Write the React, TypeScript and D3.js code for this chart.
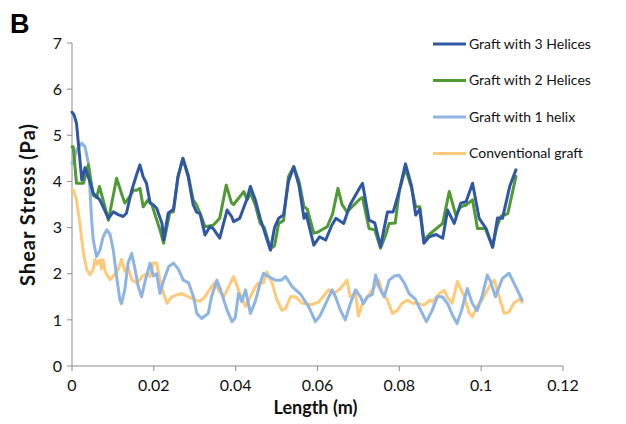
import React from 'react';
import * as d3 from 'd3';

// [length (m), shear stress (Pa)]
const threeHelices: [number, number][] = [
  [0, 5.5], [0.0005, 5.44], [0.0011, 5.26], [0.0024, 4.03], [0.0032, 4.3], [0.004, 4.1], [0.0052, 3.74],
  [0.006, 3.67], [0.0068, 3.6], [0.0076, 3.45], [0.0089, 3.2], [0.0101, 3.34], [0.0113, 3.28], [0.0125, 3.24],
  [0.0133, 3.31], [0.0146, 3.81], [0.0158, 4.15], [0.0166, 4.36], [0.0174, 4.1], [0.0182, 3.96], [0.0191, 3.53],
  [0.0198, 3.5], [0.0207, 3.42], [0.022, 3.09], [0.0224, 2.73], [0.0235, 3.31], [0.0248, 3.4], [0.0259, 4.1],
  [0.0271, 4.5], [0.0284, 4.1], [0.0296, 3.5], [0.0304, 3.34], [0.0313, 3.3], [0.0325, 2.84], [0.0337, 3.02],
  [0.0345, 2.98], [0.0361, 2.77], [0.0379, 3.38], [0.039, 3.24], [0.0395, 3.13], [0.041, 3.2], [0.0428, 3.63],
  [0.0436, 3.89], [0.0448, 3.6], [0.046, 3.2], [0.0468, 2.98], [0.0485, 2.51], [0.0495, 3.0], [0.0505, 3.2],
  [0.0517, 3.27], [0.0529, 4.0], [0.0542, 4.32], [0.0555, 3.9], [0.0567, 3.2], [0.0572, 3.3], [0.0591, 2.62],
  [0.0605, 2.8], [0.062, 2.73], [0.0635, 3.05], [0.0645, 3.2], [0.0664, 3.09], [0.068, 3.5], [0.0705, 3.89],
  [0.071, 3.96], [0.0726, 3.16], [0.074, 3.1], [0.0754, 2.59], [0.0771, 3.34], [0.0785, 3.34], [0.08, 3.8],
  [0.0815, 4.38], [0.083, 3.9], [0.084, 3.27], [0.085, 3.4], [0.086, 2.66], [0.0873, 2.8], [0.089, 2.85],
  [0.0906, 2.77], [0.0918, 3.38], [0.0934, 3.09], [0.095, 3.53], [0.0963, 3.56], [0.0979, 3.96], [0.0995, 3.2],
  [0.1012, 2.98], [0.1028, 2.57], [0.104, 3.21], [0.1052, 3.2], [0.107, 3.9], [0.1085, 4.25],
];

const twoHelices: [number, number][] = [
  [0, 4.75], [0.0003, 4.75], [0.0011, 3.96], [0.0028, 3.96], [0.004, 4.36], [0.0052, 3.7], [0.006, 3.65],
  [0.0067, 3.89], [0.0076, 3.6], [0.0089, 3.16], [0.0109, 4.07], [0.0121, 3.74], [0.0129, 3.53], [0.0141, 3.67],
  [0.015, 3.81], [0.0158, 3.81], [0.0166, 3.85], [0.0174, 3.45], [0.0186, 3.6], [0.0195, 3.5], [0.0215, 2.95],
  [0.0224, 2.66], [0.0239, 3.33], [0.0248, 3.34], [0.0259, 4.1], [0.0271, 4.5], [0.0284, 4.15], [0.0296, 3.6],
  [0.0304, 3.5], [0.0313, 3.31], [0.0325, 3.02], [0.0345, 3.05], [0.0361, 3.2], [0.0377, 3.92], [0.039, 3.53],
  [0.0395, 3.5], [0.042, 3.78], [0.0428, 3.6], [0.0436, 3.75], [0.0448, 3.49], [0.046, 3.09], [0.047, 3.0],
  [0.0485, 2.55], [0.0495, 2.6], [0.0505, 3.09], [0.0517, 3.15], [0.0529, 4.1], [0.0542, 4.32], [0.0555, 4.0],
  [0.0567, 3.45], [0.0575, 3.4], [0.0591, 2.88], [0.06, 2.9], [0.0624, 3.02], [0.0637, 3.3], [0.065, 3.85],
  [0.066, 3.5], [0.0672, 3.34], [0.069, 3.5], [0.0705, 3.63], [0.071, 3.65], [0.0726, 2.98], [0.074, 2.95],
  [0.0754, 2.55], [0.0767, 2.85], [0.0775, 3.09], [0.079, 3.1], [0.08, 3.8], [0.0815, 4.28], [0.083, 3.85],
  [0.084, 3.45], [0.085, 3.45], [0.086, 2.73], [0.0873, 2.85], [0.0906, 3.09], [0.0922, 3.78], [0.0938, 3.27],
  [0.095, 3.45], [0.0963, 3.49], [0.0979, 3.6], [0.0991, 2.98], [0.101, 2.98], [0.1028, 2.59], [0.1038, 3.0],
  [0.1048, 3.24], [0.1065, 3.3], [0.1085, 4.11],
];

const oneHelix: [number, number][] = [
  [0, 4.4], [0.0003, 4.39], [0.0011, 4.68], [0.0024, 4.83], [0.0032, 4.75], [0.004, 4.39], [0.0044, 3.81],
  [0.0048, 3.16], [0.0052, 2.73], [0.006, 2.37], [0.0068, 2.5], [0.0076, 2.8], [0.0085, 2.95], [0.0093, 2.85],
  [0.0101, 2.51], [0.0109, 1.94], [0.0117, 1.43], [0.0121, 1.35], [0.0129, 1.65], [0.0137, 2.23], [0.0146, 2.44],
  [0.0154, 2.1], [0.0162, 1.72], [0.017, 1.5], [0.0179, 1.85], [0.0191, 2.23], [0.0199, 1.95], [0.0207, 2.0],
  [0.0215, 1.57], [0.0224, 1.85], [0.0236, 2.15], [0.0248, 2.23], [0.026, 2.1], [0.0272, 1.86], [0.0285, 1.8],
  [0.0297, 1.5], [0.0305, 1.14], [0.0317, 1.03], [0.0333, 1.14], [0.0341, 1.5], [0.0354, 1.86], [0.0363, 1.65],
  [0.0379, 1.21], [0.0391, 0.96], [0.0399, 1.05], [0.0407, 1.57], [0.0415, 1.4], [0.0424, 1.65], [0.0436, 1.14],
  [0.0448, 1.4], [0.046, 1.8], [0.0468, 2.01], [0.0478, 1.95], [0.0497, 1.86], [0.0512, 1.86], [0.0522, 1.94],
  [0.0538, 1.72], [0.0559, 1.55], [0.0578, 1.29], [0.0595, 0.96], [0.0607, 1.1], [0.0624, 1.43], [0.0636, 1.65],
  [0.0644, 1.5], [0.0656, 1.21], [0.0668, 1.0], [0.068, 1.35], [0.0693, 1.65], [0.0705, 1.5], [0.0712, 1.35],
  [0.0722, 1.5], [0.0734, 1.55], [0.0742, 1.97], [0.075, 1.72], [0.0763, 1.5], [0.0775, 1.86], [0.0788, 1.95],
  [0.0799, 1.97], [0.0812, 1.8], [0.0824, 1.57], [0.0839, 1.45], [0.0852, 1.21], [0.0866, 0.96], [0.088, 1.2],
  [0.0893, 1.5], [0.0905, 1.5], [0.0918, 1.35], [0.093, 1.1], [0.0941, 0.92], [0.0952, 1.2], [0.0966, 1.68],
  [0.0978, 1.36], [0.099, 1.2], [0.1002, 1.5], [0.1015, 1.97], [0.1022, 1.85], [0.1035, 1.5], [0.1052, 1.9],
  [0.1068, 2.01], [0.108, 1.8], [0.11, 1.43],
];

const conventional: [number, number][] = [
  [0, 3.82], [0.0003, 3.82], [0.0011, 3.6], [0.002, 3.03], [0.0028, 2.45], [0.0036, 2.09], [0.0044, 1.98],
  [0.0052, 2.1], [0.0056, 2.31], [0.006, 2.2], [0.0068, 2.3], [0.0072, 2.1], [0.0076, 2.3], [0.0081, 2.05],
  [0.0093, 1.87], [0.0101, 1.95], [0.0113, 2.09], [0.0121, 2.31], [0.0129, 2.05], [0.0137, 2.15], [0.0146, 1.87],
  [0.0158, 1.8], [0.0166, 1.87], [0.0171, 1.94], [0.0183, 2.0], [0.0191, 1.94], [0.0199, 2.23], [0.0207, 2.23],
  [0.0215, 1.86], [0.0224, 1.57], [0.0232, 1.36], [0.0244, 1.5], [0.0256, 1.54], [0.0268, 1.57], [0.0285, 1.5],
  [0.03, 1.43], [0.0313, 1.4], [0.0325, 1.5], [0.0341, 1.72], [0.035, 1.81], [0.0358, 1.65], [0.0371, 1.5],
  [0.0383, 1.72], [0.0395, 1.94], [0.0407, 1.65], [0.0424, 1.29], [0.0436, 1.5], [0.0448, 1.72], [0.0456, 1.8],
  [0.0468, 1.8], [0.0476, 2.04], [0.0489, 1.8], [0.0501, 1.43], [0.0513, 1.21], [0.0522, 1.25], [0.0534, 1.5],
  [0.0546, 1.5], [0.0563, 1.36], [0.0587, 1.33], [0.0603, 1.39], [0.062, 1.57], [0.0628, 1.65], [0.064, 1.57],
  [0.0652, 1.65], [0.066, 1.72], [0.0672, 1.86], [0.068, 1.5], [0.0693, 1.57], [0.07, 1.08], [0.071, 1.36],
  [0.0722, 1.5], [0.0734, 1.65], [0.075, 1.86], [0.0759, 1.57], [0.0771, 1.43], [0.0783, 1.14], [0.0795, 1.21],
  [0.0807, 1.36], [0.082, 1.43], [0.0832, 1.36], [0.0844, 1.36], [0.086, 1.32], [0.0876, 1.43], [0.0881, 1.39],
  [0.0898, 1.57], [0.091, 1.64], [0.0917, 1.5], [0.0929, 1.36], [0.0942, 1.83], [0.0951, 1.65], [0.0959, 1.5],
  [0.0971, 1.14], [0.0979, 1.07], [0.099, 1.3], [0.1002, 1.43], [0.102, 1.72], [0.1032, 1.86], [0.1044, 1.5],
  [0.1056, 1.14], [0.1068, 1.17], [0.108, 1.36], [0.1093, 1.45], [0.11, 1.39],
];

const seriesNames = ['Graft with 3 Helices', 'Graft with 2 Helices', 'Graft with 1 helix', 'Conventional graft'];
const seriesColors = ['#2f57a6', '#4f9a32', '#8eb4e3', '#fec978'];
const seriesData = [threeHelices, twoHelices, oneHelix, conventional];
const xTicks = [0, 0.02, 0.04, 0.06, 0.08, 0.1, 0.12];
const yTicks = [0, 1, 2, 3, 4, 5, 6, 7];

const font = 'Lato, "Open Sans", sans-serif';

export default function App() {
  const width = 626, height = 424;
  const m = { left: 72, right: 63, top: 43, bottom: 58 };

  const x = d3.scaleLinear().domain([0, 0.12]).range([m.left, width - m.right]);
  const y = d3.scaleLinear().domain([0, 7]).range([height - m.bottom, m.top]);

  const line = d3.line<[number, number]>()
    .x(d => x(d[0]))
    .y(d => y(d[1]));

  // draw in reverse so the dark blue sits on top
  const order = [3, 2, 1, 0];

  return (
    <svg width={width} height={height} style={{ position: 'absolute', left: 0, top: 0, background: '#fff' }}>
      <text x={10} y={33} fontFamily="Arial, 'Liberation Sans', sans-serif" fontWeight="bold" fontSize={27}>B</text>

      {/* axes */}
      <g stroke="#8c8c8c" strokeWidth={1}>
        <line x1={x(0)} x2={x(0)} y1={y(0)} y2={y(7)} />
        <line x1={x(0)} x2={x(0.12)} y1={y(0)} y2={y(0)} />
        {yTicks.map(t => <line key={'yt' + t} x1={x(0) - 5} x2={x(0)} y1={y(t)} y2={y(t)} />)}
        {xTicks.map(t => <line key={'xt' + t} x1={x(t)} x2={x(t)} y1={y(0)} y2={y(0) + 5} />)}
      </g>

      {yTicks.map(t => (
        <text key={'yl' + t} x={x(0) - 10} y={y(t)} dy="0.36em" textAnchor="end"
          fontFamily={font} fontSize={16} fill="#111">{t}</text>
      ))}
      {xTicks.map(t => (
        <text key={'xl' + t} x={x(t)} y={y(0) + 25} textAnchor="middle"
          fontFamily={font} fontSize={16} fill="#111">{t}</text>
      ))}

      <text x={(x(0) + x(0.12)) / 2 - 2} y={414} textAnchor="middle" fontFamily={font}
        fontWeight="bold" fontSize={18} fill="#111">Length (m)</text>
      <text transform={`translate(35, ${(y(0) + y(7)) / 2}) rotate(-90)`} textAnchor="middle"
        fontFamily={font} fontWeight="bold" fontSize={20} letterSpacing={1} fill="#111">Shear Stress (Pa)</text>

      {order.map(i => (
        <path key={seriesNames[i]} d={line(seriesData[i]) || ''} fill="none"
          stroke={seriesColors[i]} strokeWidth={3} strokeLinejoin="round" strokeLinecap="round" />
      ))}

      {seriesNames.map((name, i) => {
        const ly = 44 + i * 36.5;
        return (
          <g key={'lg' + name}>
            <line x1={433} x2={466} y1={ly} y2={ly} stroke={seriesColors[i]} strokeWidth={3} />
            <text x={469} y={ly} dy="0.35em" fontFamily={font} fontSize={14} fill="#111">{name}</text>
          </g>
        );
      })}
    </svg>
  );
}
